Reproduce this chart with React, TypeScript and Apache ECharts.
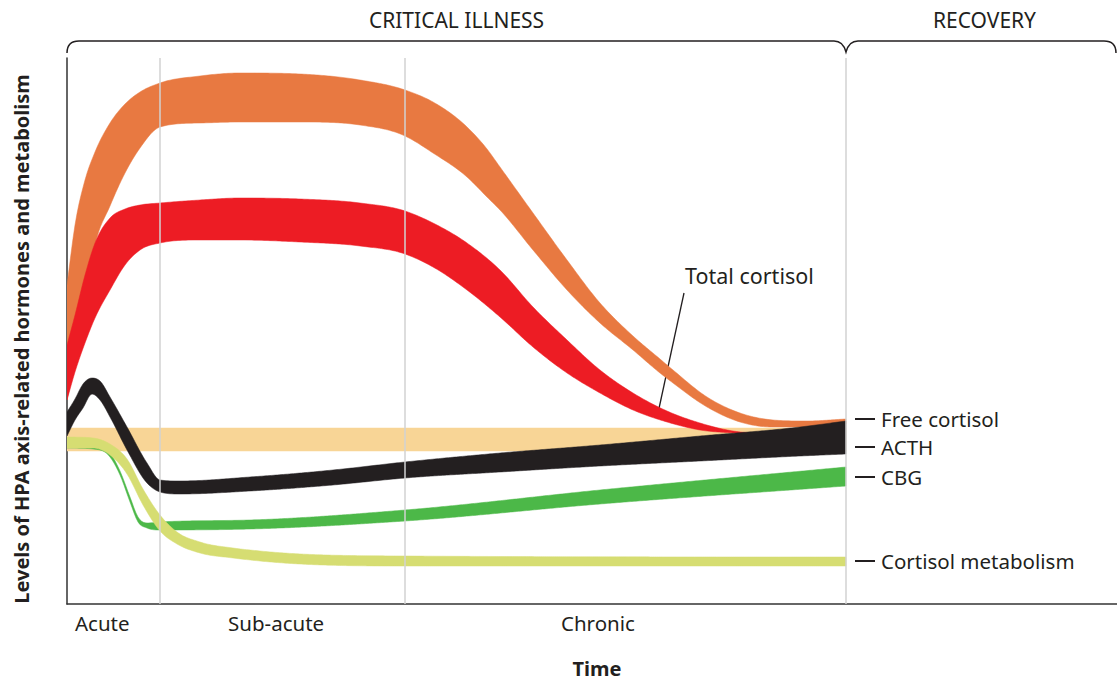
import React, { useEffect, useRef } from "react";
import * as echarts from "echarts";

// ---- data (time units along x, hormone level along y) ----
const orangeTime = [0, 8, 18, 28, 43, 58, 73, 93, 133, 173, 233, 293, 338, 366, 400, 420, 433, 466, 500, 533, 566, 593, 606, 640, 673, 706, 740, 779];
const orangeUpper = [319, 379, 424, 452, 481, 500, 512, 521, 528, 531, 530, 524, 514, 502, 477, 455, 437, 391, 344, 301, 268, 245, 234, 207, 191, 184, 183, 185];
const orangeLower = [204, 244, 304, 359, 398, 431, 456, 477, 481, 482, 482, 479, 468, 451, 427, 407, 394, 354, 314, 281, 254, 231, 221, 197, 182, 177, 177, 180];

const redTime = [0, 8, 18, 28, 43, 58, 73, 93, 133, 173, 233, 293, 338, 366, 400, 433, 466, 500, 533, 566, 600, 633, 666, 683];
const redUpper = [259, 289, 329, 361, 386, 395, 399, 401, 404, 406, 405, 401, 393, 381, 361, 334, 297, 264, 234, 211, 193, 181, 173, 171];
const redLower = [204, 232, 261, 286, 314, 339, 354, 361, 364, 364, 362, 358, 350, 337, 314, 287, 257, 231, 211, 194, 182, 174, 171, 170];

const freeTime = [0, 779];
const freeUpper = [176, 176];
const freeLower = [153, 153];

const acthTime = [0, 8, 16, 25, 33, 43, 60, 80, 93, 113, 183, 266, 338, 433, 533, 633, 733, 779];
const acthUpper = [192, 205, 220, 226, 223, 207, 177, 141, 124, 123, 127, 134, 142, 151, 159, 168, 177, 183];
const acthLower = [168, 184, 196, 210, 204, 187, 154, 121, 112, 110, 113, 119, 126, 132, 138, 143, 148, 150];

const cbgTime = [0, 26, 43, 53, 63, 71, 80, 93, 183, 338, 533, 779];
const cbgUpper = [160, 159, 151, 133, 107, 87, 81, 82, 84, 94, 114, 137];
const cbgLower = [156, 155, 147, 129, 102, 82, 76, 74, 75, 83, 100, 118];

const metabTime = [0, 26, 43, 60, 76, 93, 110, 133, 166, 193, 338, 779];
const metabUpper = [167, 166, 160, 145, 115, 89, 72, 62, 56, 53, 48, 47];
const metabLower = [156, 156, 149, 130, 99, 73, 60, 51, 46, 43, 38, 38];

const phaseBoundaries = [93, 338, 779];
const phaseNames = ["Acute", "Sub-acute", "Chronic"];
const phaseLabelTimes = [8, 161, 494];

const endLabels = ["Free cortisol", "ACTH", "CBG", "Cortisol metabolism"];
const endLabelLevels = [185, 157, 127, 43];

const totalCortisolPoint = [591, 191];
const totalCortisolLabel = [618, 329];

const X_MAX = 1050;
const Y_MAX = 546;

const INK = "#231f20";
const FONT = "'Noto Sans', 'Open Sans', sans-serif";

echarts.graphic.registerShape(
  "brace",
  echarts.graphic.extendPath(
    "M67,53 Q67,41 79,41 L834,41 Q843,41 846,52 Q849,41 858,41 L1104,41 Q1116,41 1116,53",
    {}
  )
);

// monotone cubic (Fritsch–Carlson) through pixel points, used only for drawing smooth edges
function smoothEdge(pts: number[][], step: number): number[][] {
  const n = pts.length;
  if (n < 3) return pts.map((q) => [q[0], q[1]]);
  const d: number[] = [];
  for (let k = 0; k < n - 1; k++) d.push((pts[k + 1][1] - pts[k][1]) / (pts[k + 1][0] - pts[k][0]));
  const m: number[] = new Array(n);
  m[0] = d[0];
  m[n - 1] = d[n - 2];
  for (let k = 1; k < n - 1; k++) {
    if (d[k - 1] * d[k] <= 0) m[k] = 0;
    else {
      const h0 = pts[k][0] - pts[k - 1][0];
      const h1 = pts[k + 1][0] - pts[k][0];
      m[k] = (d[k - 1] * h1 + d[k] * h0) / (h0 + h1);
    }
  }
  for (let k = 0; k < n - 1; k++) {
    if (d[k] === 0) {
      m[k] = 0;
      m[k + 1] = 0;
    } else {
      const a = m[k] / d[k];
      const b = m[k + 1] / d[k];
      const s = a * a + b * b;
      if (s > 9) {
        const t = 3 / Math.sqrt(s);
        m[k] = t * a * d[k];
        m[k + 1] = t * b * d[k];
      }
    }
  }
  const out: number[][] = [];
  for (let k = 0; k < n - 1; k++) {
    const x0 = pts[k][0], x1 = pts[k + 1][0];
    const y0 = pts[k][1], y1 = pts[k + 1][1];
    const h = x1 - x0;
    const steps = Math.max(1, Math.ceil(h / step));
    for (let s = 0; s < steps; s++) {
      const t = s / steps;
      const h00 = 2 * t * t * t - 3 * t * t + 1;
      const h10 = t * t * t - 2 * t * t + t;
      const h01 = -2 * t * t * t + 3 * t * t;
      const h11 = t * t * t - t * t;
      out.push([x0 + t * h, h00 * y0 + h10 * h * m[k] + h01 * y1 + h11 * h * m[k + 1]]);
    }
  }
  out.push([pts[n - 1][0], pts[n - 1][1]]);
  return out;
}

function band(name: string, time: number[], upper: number[], lower: number[], color: string) {
  return {
    type: "custom",
    name,
    silent: true,
    clip: true,
    data: time.map((t, i) => [t, upper[i], lower[i]]),
    encode: { x: 0, y: [1, 2] },
    renderItem: (params: any, api: any) => {
      if (params.dataIndex !== 0) return null;
      const up = time.map((t, i) => api.coord([t, upper[i]]));
      const lo = time.map((t, i) => api.coord([t, lower[i]]));
      const top = smoothEdge(up, 2);
      const bottom = smoothEdge(lo, 2).reverse();
      return {
        type: "polygon",
        shape: { points: top.concat(bottom) },
        style: { fill: color, stroke: color, lineWidth: 0.5 },
      };
    },
  };
}

export default function App() {
  const ref = useRef<HTMLDivElement>(null);
  useEffect(() => {
    document.body.style.margin = "0";
    const chart = echarts.init(ref.current!, null, { renderer: "svg" });
    const series: any[] = [
      {
        type: "line",
        name: "phases",
        data: [],
        silent: true,
        markLine: {
          silent: true,
          symbol: "none",
          label: { show: false },
          lineStyle: { color: "#d2d2d2", width: 1.5, type: "solid" },
          data: phaseBoundaries.map((t) => ({ xAxis: t })),
        },
        z: 0,
      },
      band("Free cortisol", freeTime, freeUpper, freeLower, "#f8d596"),
      band("Total cortisol outer", orangeTime, orangeUpper, orangeLower, "#e87941"),
      band("Total cortisol", redTime, redUpper, redLower, "#ed1c24"),
      band("ACTH", acthTime, acthUpper, acthLower, INK),
      band("CBG", cbgTime, cbgUpper, cbgLower, "#4cb848"),
      band("Cortisol metabolism", metabTime, metabUpper, metabLower, "#d6dd72"),
    ];
    chart.setOption({
      animation: false,
      grid: { left: 67, right: 0, top: 58, bottom: 77, containLabel: false },
      xAxis: {
        type: "value",
        min: 0,
        max: X_MAX,
        axisLine: { show: true, lineStyle: { color: "#333", width: 1.5 } },
        axisTick: { show: false },
        axisLabel: { show: false },
        splitLine: { show: false },
      },
      yAxis: {
        type: "value",
        min: 0,
        max: Y_MAX,
        axisLine: { show: true, lineStyle: { color: "#333", width: 1.5 } },
        axisTick: { show: false },
        axisLabel: { show: false },
        splitLine: { show: false },
      },
      series,
    });

    const p = (t: number, v: number) => chart.convertToPixel({ gridIndex: 0 }, [t, v]) as number[];
    const origin = p(0, 0);
    const txt = (text: string, x: number, y: number, size: number, align: string, weight = "normal", rotation = 0) => ({
      type: "text",
      x,
      y,
      rotation,
      silent: true,
      style: { text, fill: INK, fontSize: size, fontFamily: FONT, fontWeight: weight, align, verticalAlign: "middle" },
    });
    const graphics: any[] = [];
    graphics.push({ type: "brace", x: 0, y: 0, silent: true, style: { fill: "none", stroke: INK, lineWidth: 1.5 } });
    const critMid = (p(0, 0)[0] + p(phaseBoundaries[2], 0)[0]) / 2;
    const recMid = (p(phaseBoundaries[2], 0)[0] + p(X_MAX, 0)[0]) / 2;
    graphics.push(txt("CRITICAL ILLNESS", critMid, 20, 21, "center"));
    graphics.push(txt("RECOVERY", recMid + 3, 20, 21, "center"));
    phaseNames.forEach((n, i) => {
      graphics.push(txt(n, p(phaseLabelTimes[i], 0)[0], origin[1] + 19, 20.5, "left"));
    });
    graphics.push(txt("Time", 597, 668, 20, "center", "bold"));
    graphics.push(txt("Levels of HPA axis-related hormones and metabolism", 21, 339, 20, "center", "bold", Math.PI / 2));
    endLabels.forEach((n, i) => {
      const a = p(phaseBoundaries[2] + 9, endLabelLevels[i]);
      graphics.push({
        type: "line",
        silent: true,
        shape: { x1: a[0], y1: a[1], x2: a[0] + 20, y2: a[1] },
        style: { stroke: INK, lineWidth: 2 },
      });
      graphics.push(txt(n, a[0] + 26, a[1], 20.5, "left"));
    });
    const dot = p(totalCortisolPoint[0], totalCortisolPoint[1]);
    const lab = p(totalCortisolLabel[0], totalCortisolLabel[1]);
    graphics.push({
      type: "line",
      silent: true,
      shape: { x1: lab[0] - 1, y1: lab[1] + 18, x2: dot[0], y2: dot[1] },
      style: { stroke: INK, lineWidth: 1.3 },
    });
    graphics.push({
      type: "circle",
      silent: true,
      shape: { cx: dot[0], cy: dot[1], r: 3.5 },
      style: { fill: INK, stroke: "#fff", lineWidth: 1 },
    });
    graphics.push(txt("Total cortisol", lab[0], lab[1], 21.5, "left"));
    chart.setOption({ graphic: graphics });
    return () => chart.dispose();
  }, []);
  return <div ref={ref} style={{ width: 1117, height: 681 }} />;
}
